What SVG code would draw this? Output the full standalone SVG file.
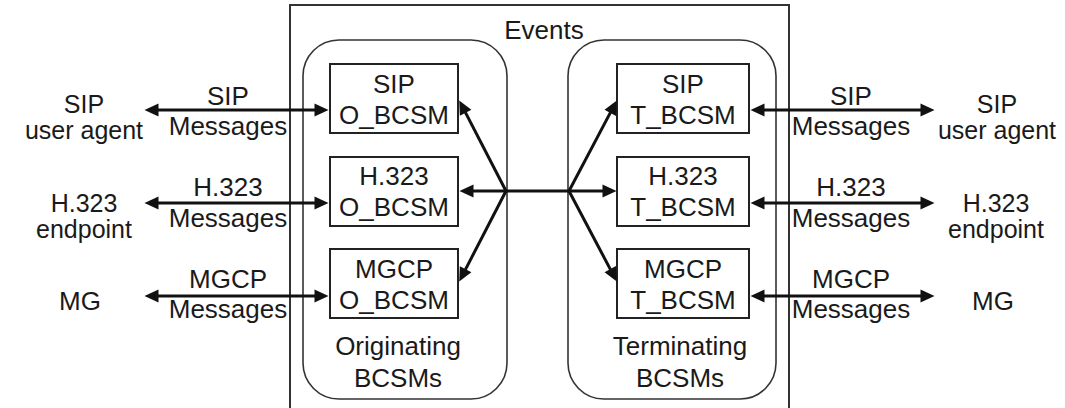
<svg xmlns="http://www.w3.org/2000/svg" width="1065" height="408" viewBox="0 0 1065 408">
  <style>
    text { font-family: "Liberation Sans", Arial, sans-serif; font-size: 26px; fill: #1a1a1a; text-anchor: middle; }
    .ep { font-size: 25px; }
    .frame { fill: none; stroke: #333; stroke-width: 2; }
    .group { fill: none; stroke: #333; stroke-width: 1.6; }
    .bcsm { fill: #fff; stroke: #222; stroke-width: 2; }
    .link { fill: none; stroke: #111; stroke-width: 3; }
    .both { marker-start: url(#head); marker-end: url(#head); }
    .one { marker-end: url(#head); }
  </style>
  <defs>
    <marker id="head" markerUnits="userSpaceOnUse" markerWidth="15" markerHeight="13" refX="0.5" refY="6.5" orient="auto-start-reverse" overflow="visible">
      <path d="M0,0 L14,6.5 L0,13 Z" fill="#111"/>
    </marker>
  </defs>

  <rect fill="#fff" x="0" y="0" width="1065" height="408"/>

  <!-- Events frame -->
  <g id="events">
    <rect class="frame" x="290" y="5" width="499" height="420"/>
    <text x="544" y="39">Events</text>
  </g>

  <!-- Originating BCSMs group -->
  <g id="originating">
    <rect class="group" x="303" y="40" width="204" height="359" rx="36" ry="36"/>
    <text x="398" y="355">Originating</text>
    <text x="398" y="387">BCSMs</text>
  </g>

  <!-- Terminating BCSMs group -->
  <g id="terminating">
    <rect class="group" x="568" y="40" width="208" height="359" rx="36" ry="36"/>
    <text x="680" y="355">Terminating</text>
    <text x="680" y="387">BCSMs</text>
  </g>

  <g id="sip-o-bcsm">
    <rect class="bcsm" x="330" y="64" width="128" height="69"/>
    <text x="394" y="93">SIP</text>
    <text x="394" y="124">O_BCSM</text>
  </g>
  <g id="h323-o-bcsm">
    <rect class="bcsm" x="330" y="157" width="128" height="69"/>
    <text x="394" y="185">H.323</text>
    <text x="394" y="216">O_BCSM</text>
  </g>
  <g id="mgcp-o-bcsm">
    <rect class="bcsm" x="330" y="249" width="128" height="69"/>
    <text x="394" y="278">MGCP</text>
    <text x="394" y="309">O_BCSM</text>
  </g>

  <g id="sip-t-bcsm">
    <rect class="bcsm" x="617" y="64" width="132" height="69"/>
    <text x="683" y="93">SIP</text>
    <text x="683" y="124">T_BCSM</text>
  </g>
  <g id="h323-t-bcsm">
    <rect class="bcsm" x="617" y="157" width="132" height="69"/>
    <text x="683" y="185">H.323</text>
    <text x="683" y="216">T_BCSM</text>
  </g>
  <g id="mgcp-t-bcsm">
    <rect class="bcsm" x="617" y="249" width="132" height="69"/>
    <text x="683" y="278">MGCP</text>
    <text x="683" y="309">T_BCSM</text>
  </g>

  <!-- external endpoints, left -->
  <g id="sip-ua-left">
    <text class="ep" x="84" y="113">SIP</text>
    <text class="ep" x="84" y="139">user agent</text>
  </g>
  <g id="h323-ep-left">
    <text class="ep" x="84" y="212">H.323</text>
    <text class="ep" x="84" y="238">endpoint</text>
  </g>
  <g id="mg-left">
    <text x="80" y="310">MG</text>
  </g>

  <!-- external endpoints, right -->
  <g id="sip-ua-right">
    <text class="ep" x="997" y="113">SIP</text>
    <text class="ep" x="997" y="139">user agent</text>
  </g>
  <g id="h323-ep-right">
    <text class="ep" x="996" y="212">H.323</text>
    <text class="ep" x="996" y="238">endpoint</text>
  </g>
  <g id="mg-right">
    <text x="993" y="310">MG</text>
  </g>

  <!-- connectors -->
  <g id="connectors">
    <!-- protocol message links -->
    <path class="link both" d="M158,110 H315"/>
    <path class="link both" d="M158,203 H315"/>
    <path class="link both" d="M158,296 H315"/>
    <path class="link both" d="M764,110 H921"/>
    <path class="link both" d="M764,203 H921"/>
    <path class="link both" d="M764,296 H921"/>

    <!-- event distribution -->
    <path class="link both" d="M473,191 H603"/>
    <path class="link one" d="M506,191 L465.4,112.4"/>
    <path class="link one" d="M506,191 L465.4,269.6"/>
    <path class="link one" d="M569,191 L610.5,112.4"/>
    <path class="link one" d="M569,191 L610.5,269.6"/>

    <!-- link labels -->
    <text x="228" y="105">SIP</text>
    <text x="228" y="135">Messages</text>
    <text x="228" y="196">H.323</text>
    <text x="228" y="227">Messages</text>
    <text x="228" y="288">MGCP</text>
    <text x="228" y="318">Messages</text>
    <text x="851" y="105">SIP</text>
    <text x="851" y="135">Messages</text>
    <text x="851" y="196">H.323</text>
    <text x="851" y="227">Messages</text>
    <text x="851" y="288">MGCP</text>
    <text x="851" y="318">Messages</text>
  </g>
</svg>
